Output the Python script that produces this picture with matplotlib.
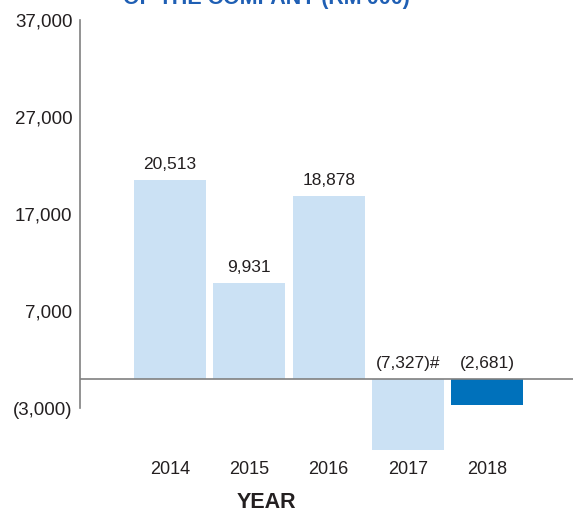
import matplotlib
matplotlib.use("Agg")
import matplotlib.pyplot as plt

# Profit/(loss) before tax of the company, RM'000
years = ["2014", "2015", "2016", "2017", "2018"]
values = [20513, 9931, 18878, -7327, -2681]
label_suffix = ["", "", "", "#", ""]
bar_colors = ["#cbe1f4", "#cbe1f4", "#cbe1f4", "#cbe1f4", "#0071bb"]
y_ticks = [37000, 27000, 17000, 7000, -3000]

plt.rcParams["font.family"] = ["Liberation Sans", "DejaVu Sans"]
text_color = "#231f20"
axis_color = "#808080"


def fmt(v):
    return f"({abs(v):,})" if v < 0 else f"{v:,}"


fig = plt.figure(figsize=(5.73, 5.13), dpi=100)
ax = fig.add_axes([80 / 573, 0.110, 1 - 80 / 573, 0.961 - 0.110])

x = list(range(len(years)))
ax.bar(x, values, width=0.906, color=bar_colors, zorder=2)

for xi, v, suf in zip(x, values, label_suffix):
    y = v if v > 0 else 0
    ax.annotate(fmt(v) + suf, (xi, y), xytext=(0, 5.5), textcoords="offset points",
                ha="center", va="bottom", fontsize=12.5, color=text_color)

ax.set_xlim(-1.135, 5.08)
ax.set_ylim(-8000, 37000)
ax.axhline(0, color=axis_color, lw=1.2, zorder=3)

for s in ["top", "right", "bottom"]:
    ax.spines[s].set_visible(False)
ax.spines["left"].set_bounds(-3000, 37000)
ax.spines["left"].set_color(axis_color)
ax.spines["left"].set_linewidth(1.2)

ax.set_yticks(y_ticks)
ax.set_yticklabels([fmt(t) for t in y_ticks])
ax.set_xticks(x)
ax.set_xticklabels(years)
ax.tick_params(axis="y", length=0, pad=5.5, labelsize=13.5, labelcolor=text_color)
ax.tick_params(axis="x", length=0, pad=3, labelsize=13, labelcolor=text_color)

fig.text(266 / 573, 1 - 503 / 513, "YEAR", ha="center", va="center",
         fontsize=15.5, fontweight="bold", color=text_color)
fig.text(266 / 573, 1 - 4 / 513, "OF THE COMPANY (RM'000)", ha="center",
         va="baseline", fontsize=15.5, fontweight="bold", color="#1f5fb4")

fig.savefig("out.png", dpi=100)
